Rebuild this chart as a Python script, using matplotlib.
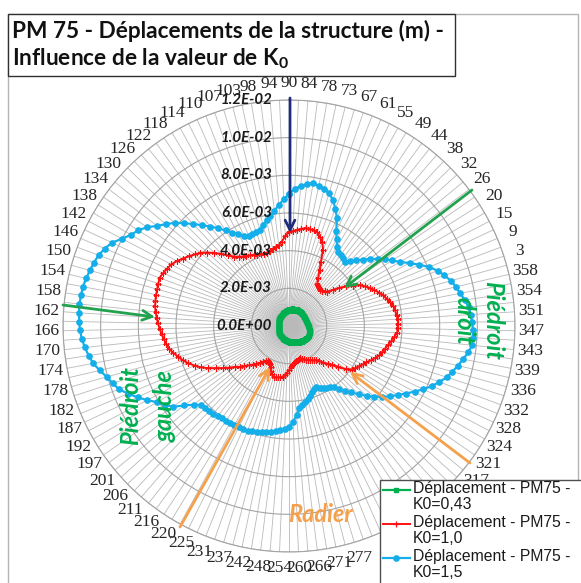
import numpy as np
import matplotlib
matplotlib.use("Agg")
import matplotlib.pyplot as plt
from matplotlib.patches import Rectangle
from matplotlib.lines import Line2D

W, H, DPI = 581, 583, 100

# Direction labels (degrees), clockwise from the top; one label every second direction.
# None = label hidden behind the legend box.
label_angles = [90, 84, 78, 73, 67, 61, 55, 49, 44, 38, 32, 26, 20, 15, 9, 3,
                358, 354, 351, 347, 343, 339, 336, 332, 328, 324, 321, 317,
                None, None, None, None, None, None, 277, 271, 266, 260, 254, 248, 242, 237,
                231, 225, 220, 216, 211, 206, 201, 197, 192, 187, 182, 178, 174, 170,
                166, 162, 158, 154, 150, 146, 142, 138, 134, 130, 126, 122, 118, 114,
                110, 107, 103, 98, 94]

# Structure displacement in mm (x1E-3 m), 150 directions clockwise from the top
disp_k043_mm = [
    0.85, 0.86, 0.87, 0.88, 0.89, 0.90, 0.90, 0.91, 0.92, 0.92,
    0.93, 0.93, 0.94, 0.94, 0.95, 0.95, 0.95, 0.96, 0.96, 0.96,
    0.96, 0.95, 0.95, 0.95, 0.94, 0.94, 0.94, 0.95, 0.95, 0.95,
    0.96, 0.96, 0.96, 0.97, 0.98, 0.99, 1.00, 1.02, 1.04, 1.06,
    1.08, 1.10, 1.12, 1.13, 1.14, 1.15, 1.16, 1.17, 1.17, 1.17,
    1.17, 1.16, 1.15, 1.14, 1.12, 1.10, 1.08, 1.06, 1.05, 1.04,
    1.03, 1.02, 1.00, 0.98, 0.96, 0.95, 0.93, 0.92, 0.91, 0.90,
    0.88, 0.87, 0.86, 0.85, 0.84, 0.83, 0.82, 0.81, 0.80, 0.79,
    0.78, 0.77, 0.76, 0.75, 0.74, 0.73, 0.72, 0.71, 0.70, 0.69,
    0.68, 0.68, 0.67, 0.67, 0.66, 0.66, 0.65, 0.65, 0.64, 0.64,
    0.63, 0.62, 0.61, 0.60, 0.59, 0.58, 0.57, 0.56, 0.55, 0.55,
    0.54, 0.54, 0.53, 0.53, 0.53, 0.54, 0.54, 0.55, 0.55, 0.56,
    0.57, 0.58, 0.59, 0.60, 0.60, 0.61, 0.62, 0.62, 0.63, 0.64,
    0.65, 0.65, 0.66, 0.66, 0.67, 0.68, 0.69, 0.70, 0.71, 0.72,
    0.73, 0.74, 0.75, 0.77, 0.78, 0.79, 0.80, 0.82, 0.83, 0.84]

disp_k10_mm = [
    4.98, 5.05, 5.12, 5.20, 5.27, 5.27, 5.24, 5.20, 5.00, 4.81,
    4.44, 3.82, 3.37, 3.00, 2.70, 2.63, 2.56, 2.52, 2.58, 2.65,
    2.70, 3.00, 3.35, 3.68, 4.00, 4.35, 4.54, 4.73, 4.91, 5.10,
    5.25, 5.39, 5.53, 5.64, 5.69, 5.74, 5.79, 5.78, 5.77, 5.75,
    5.62, 5.49, 5.36, 5.25, 5.15, 5.05, 4.88, 4.71, 4.54, 4.41,
    4.29, 4.17, 4.05, 3.78, 3.41, 3.08, 2.87, 2.66, 2.45, 2.31,
    2.25, 2.18, 2.12, 2.06, 1.99, 1.93, 1.87, 1.81, 1.83, 1.87,
    1.90, 1.93, 1.97, 2.06, 2.20, 2.34, 2.48, 2.62, 2.74, 2.76,
    2.78, 2.81, 2.84, 2.72, 2.57, 2.41, 2.26, 2.19, 2.17, 2.20,
    2.35, 2.50, 2.66, 2.81, 2.98, 3.19, 3.40, 3.60, 3.87, 4.17,
    4.47, 4.83, 5.16, 5.42, 5.70, 5.91, 6.10, 6.30, 6.48, 6.58,
    6.68, 6.78, 6.87, 6.96, 7.04, 7.12, 7.19, 7.22, 7.25, 7.27,
    7.30, 7.33, 7.25, 7.15, 7.05, 6.89, 6.68, 6.49, 6.29, 6.10,
    5.83, 5.54, 5.25, 4.95, 4.70, 4.55, 4.43, 4.36, 4.28, 4.21,
    4.15, 4.10, 4.06, 4.05, 4.12, 4.18, 4.24, 4.31, 4.50, 4.79]

disp_k15_mm = [
    7.01, 7.29, 7.46, 7.58, 7.70, 7.61, 7.53, 7.36, 7.09, 6.69,
    6.27, 5.63, 5.26, 4.93, 4.74, 4.66, 4.59, 4.51, 4.72, 4.98,
    5.27, 5.58, 5.90, 6.20, 6.50, 6.80, 7.22, 7.64, 8.08, 8.42,
    8.68, 8.93, 9.10, 9.26, 9.43, 9.59, 9.68, 9.72, 9.77, 9.78,
    9.78, 9.62, 9.41, 9.21, 9.01, 8.81, 8.52, 8.23, 7.89, 7.52,
    7.17, 6.83, 6.54, 6.22, 5.89, 5.54, 5.19, 4.84, 4.56, 4.29,
    4.02, 3.92, 3.83, 3.74, 3.65, 3.55, 3.60, 3.73, 3.86, 3.99,
    4.11, 4.24, 4.41, 4.76, 5.10, 5.38, 5.46, 5.54, 5.62, 5.70,
    5.76, 5.81, 5.86, 5.92, 5.97, 6.00, 6.01, 6.02, 6.03, 6.04,
    6.07, 6.11, 6.15, 6.19, 6.23, 6.27, 6.55, 6.98, 7.52, 7.80,
    8.09, 8.50, 8.89, 9.27, 9.63, 9.84, 10.05, 10.32, 10.59, 10.75,
    10.90, 11.02, 11.10, 11.14, 11.17, 11.19, 11.16, 11.14, 11.06, 10.98,
    10.89, 10.79, 10.61, 10.39, 10.00, 9.69, 9.48, 9.19, 8.79, 8.49,
    8.18, 7.80, 7.43, 7.07, 6.74, 6.42, 6.09, 5.80, 5.57, 5.34,
    5.25, 5.27, 5.30, 5.33, 5.53, 5.73, 5.93, 6.17, 6.45, 6.73]

series_labels = ["Déplacement - PM75 -\nK0=0,43",
                 "Déplacement - PM75 -\nK0=1,0",
                 "Déplacement - PM75 -\nK0=1,5"]
radial_ticks = [0.0, 0.002, 0.004, 0.006, 0.008, 0.010, 0.012]

GREEN, RED, BLUE = "#00b050", "#ff1010", "#14aeea"
ORANGE, NAVY, ARROW_GREEN = "#f5a04c", "#1f2c78", "#22a24e"

plt.rcParams["mathtext.fontset"] = "custom"
plt.rcParams["mathtext.rm"] = "Lato:bold"
plt.rcParams["mathtext.it"] = "Lato:bold"
plt.rcParams["mathtext.bf"] = "Lato:bold"

fig = plt.figure(figsize=(W / DPI, H / DPI), dpi=DPI)
fig.patch.set_facecolor("white")


def fpx(x, y):
    """Pixel position measured from the top-left corner -> figure fraction."""
    return x / W, 1 - y / H


# chart area frame
fig.add_artist(Rectangle(fpx(8, 600), (578 - 8) / W, (600 - 14) / H,
                         transform=fig.transFigure, fill=False,
                         edgecolor="#b4b4b4", lw=1.0))

# radar axes
cx, cy, R = 289, 326, 226
ax = fig.add_axes([(cx - R) / W, (H - cy - R) / H, 2 * R / W, 2 * R / H],
                  projection="polar")
ax.set_theta_zero_location("N")
ax.set_theta_direction(-1)
ax.set_ylim(0, 0.012)

n = len(disp_k15_mm)
theta = np.arange(n) * 2 * np.pi / n
ticklabels = [""] * n
ticklabels[::2] = ["" if a is None else str(a) for a in label_angles]
ax.set_xticks(theta)
ax.set_xticklabels(ticklabels, fontfamily="Liberation Serif", fontsize=12.5,
                   color="#262626")
ax.tick_params(axis="x", pad=5, length=0)
ax.set_yticks(radial_ticks)
ax.set_yticklabels([])
ax.tick_params(axis="y", length=0)
ax.xaxis.grid(True, color="#b9b9b9", lw=0.6)
ax.yaxis.grid(True, color="#a4a4a4", lw=0.8)
ax.spines["polar"].set_color("#a4a4a4")
ax.spines["polar"].set_linewidth(0.8)
ax.set_facecolor("white")

for v in radial_ticks:
    ax.annotate(f"{v:.1E}", xy=(0, v), xytext=(-17, 0),
                textcoords="offset pixels", ha="right", va="center",
                fontfamily="Lato", fontweight="bold", fontstyle="italic",
                fontsize=10.8, color="#1a1a1a", zorder=6)

tt = np.append(theta, theta[0])


def closed(vals):
    v = np.asarray(vals, dtype=float) * 1e-3
    return np.append(v, v[0])


styles = [dict(color=GREEN, lw=2.6, marker="s", ms=3.5, mec=GREEN, mfc=GREEN),
          dict(color=RED, lw=1.4, marker="+", ms=5, mew=0.9),
          dict(color=BLUE, lw=1.6, marker="o", ms=3.8, mec=BLUE, mfc=BLUE)]
for vals, st in zip([disp_k043_mm, disp_k10_mm, disp_k15_mm], styles):
    ax.plot(tt, closed(vals), zorder=4, **st)

# arrows pointing at the zones of interest
arrows = [((290, 98), (290, 233), NAVY),
          ((472, 190), (344, 288), ARROW_GREEN),
          ((63, 305), (155, 317), ARROW_GREEN),
          ((180, 527), (270, 367), ORANGE),
          ((470, 463), (350, 372), ORANGE)]
for (x0, y0), (x1, y1), col in arrows:
    ax.annotate("", xy=(x1, H - y1), xycoords="figure pixels",
                xytext=(x0, H - y0), textcoords="figure pixels",
                arrowprops=dict(arrowstyle="->,head_length=0.7,head_width=0.35",
                                color=col, lw=2.0, shrinkA=0, shrinkB=0),
                zorder=7)

txt_kw = dict(fontfamily="Lato", fontweight="bold", fontstyle="italic",
              fontsize=17, ha="center", va="center", zorder=8)
fig.text(*fpx(493, 320), "Piédroit", rotation=-90, color=GREEN, **txt_kw)
fig.text(*fpx(464, 321), "droit", rotation=-90, color=GREEN, **txt_kw)
fig.text(*fpx(131, 406), "Piédroit", rotation=90, color=GREEN, **txt_kw)
fig.text(*fpx(165, 406), "gauche", rotation=90, color=GREEN, **txt_kw)
fig.text(*fpx(320, 515), "Radier", color=ORANGE, **txt_kw)

# title box
fig.add_artist(Rectangle(fpx(8, 76), (455 - 8) / W, (76 - 14) / H,
                         transform=fig.transFigure, facecolor="white",
                         edgecolor="#303030", lw=1.0, zorder=9))
t1 = fig.text(*fpx(12, 31), "PM 75 - Déplacements de la structure (m) -",
              fontfamily="Lato", fontweight="bold", fontsize=16,
              ha="left", va="center", color="#111111", zorder=10)
t2 = fig.text(*fpx(12, 59), "Influence de la valeur de K$_0$",
              fontfamily="Lato", fontweight="bold", fontsize=16,
              ha="left", va="center", color="#111111", zorder=10)
fig.canvas.draw()
scale = 433 / t1.get_window_extent().width
t1.set_fontsize(16 * scale)
t2.set_fontsize(16 * scale)

# legend box (runs past the lower-right edge of the figure)
fig.add_artist(Rectangle(fpx(380, 620), (640 - 380) / W, (620 - 480) / H,
                         transform=fig.transFigure, facecolor="white",
                         edgecolor="#505050", lw=1.0, zorder=11))
for k, (lab, st) in enumerate(zip(series_labels, styles)):
    y = 490 + 34 * k
    xs = [383 / W, 396 / W, 410 / W]
    ys = [1 - y / H] * 3
    st_leg = dict(st)
    st_leg["lw"] = min(st["lw"], 1.6)
    fig.add_artist(Line2D(xs, ys, transform=fig.transFigure, markevery=[1],
                          zorder=12, **st_leg))
    fig.text(*fpx(413, y), lab, fontfamily="Liberation Sans", fontsize=11.3,
             ha="left", va="top", color="#1a1a1a", zorder=12,
             linespacing=1.05, transform=fig.transFigure).set_y(1 - (y - 9) / H)

fig.savefig("out.png", dpi=DPI, facecolor="white")
